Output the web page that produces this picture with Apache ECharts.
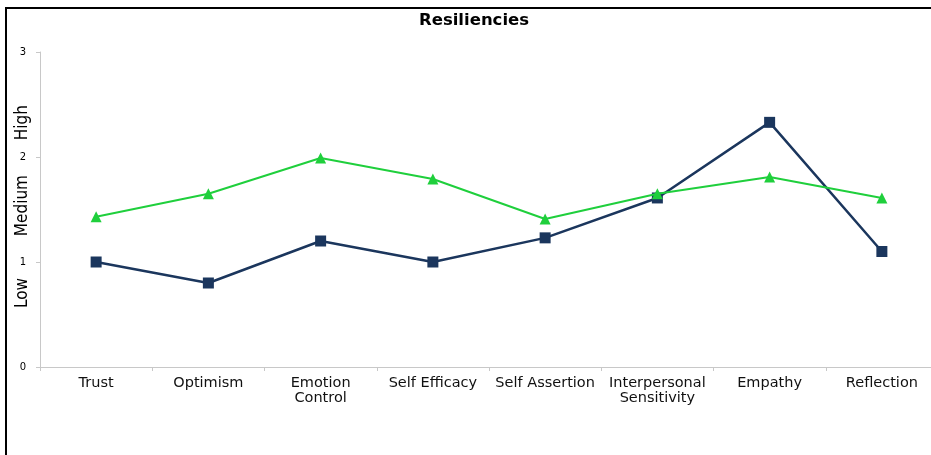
<!DOCTYPE html>
<html>
<head>
<meta charset="utf-8">
<script src="https://cdn.jsdelivr.net/npm/echarts@6/dist/echarts.min.js"></script>
<style>
  html, body { margin: 0; padding: 0; background: #fff; }
  #wrap { position: relative; width: 931px; height: 455px; overflow: hidden; }
  #frame { position: absolute; left: 5px; top: 7px; width: 940px; height: 460px;
           border-left: 2px solid #000; border-top: 2px solid #000; box-sizing: border-box; }
  #chart { position: absolute; left: 0; top: 0; width: 938px; height: 455px; }
</style>
</head>
<body>
<div id="wrap">
  <div id="frame"></div>
  <div id="chart"></div>
</div>
<script>
var categories = ['Trust', 'Optimism', 'Emotion\nControl', 'Self Efficacy', 'Self Assertion',
                  'Interpersonal\nSensitivity', 'Empathy', 'Reflection'];
var seriesA = [1.0, 0.8, 1.2, 1.0, 1.23, 1.61, 2.33, 1.1];
var seriesB = [1.43, 1.65, 1.99, 1.79, 1.41, 1.65, 1.81, 1.61];
var yTicks = [0, 1, 2, 3];
var bandLabels = ['Low', 'Medium', 'High'];

var myChart = echarts.init(document.getElementById('chart'));
var option = {
  animation: false,
  title: {
    text: 'Resiliencies',
    left: 414,
    top: 7,
    textStyle: { fontFamily: 'DejaVu Sans', fontSize: 16.5, fontWeight: 'bold', color: '#000' }
  },
  grid: { left: 40, right: 0, top: 52, bottom: 88 },
  xAxis: {
    type: 'category',
    data: categories,
    boundaryGap: true,
    axisLine: { lineStyle: { color: '#c8c8c8', width: 1 } },
    axisTick: { show: true, length: 4, lineStyle: { color: '#c8c8c8' } },
    axisLabel: {
      interval: 0,
      margin: 9,
      color: '#111',
      fontFamily: 'DejaVu Sans',
      fontSize: 14.5,
      lineHeight: 15
    }
  },
  yAxis: {
    type: 'value',
    min: yTicks[0],
    max: yTicks[yTicks.length - 1],
    interval: 1,
    axisLine: { show: true, lineStyle: { color: '#c8c8c8', width: 1 } },
    axisTick: { show: true, length: 4, lineStyle: { color: '#c8c8c8' } },
    splitLine: { show: false },
    axisLabel: { color: '#000', fontFamily: 'DejaVu Sans', fontSize: 10, margin: 14 }
  },
  graphic: [
    { type: 'text', left: 14, top: 278, rotation: Math.PI / 2,
      style: { text: bandLabels[0], fontFamily: 'Liberation Sans Narrow, DejaVu Sans Condensed', fontSize: 17, fill: '#000' } },
    { type: 'text', left: 14, top: 175, rotation: Math.PI / 2,
      style: { text: bandLabels[1], fontFamily: 'Liberation Sans Narrow, DejaVu Sans Condensed', fontSize: 17, fill: '#000' } },
    { type: 'text', left: 14, top: 105, rotation: Math.PI / 2,
      style: { text: bandLabels[2], fontFamily: 'Liberation Sans Narrow, DejaVu Sans Condensed', fontSize: 17, fill: '#000' } }
  ],
  series: [
    {
      type: 'line',
      data: seriesA,
      symbol: 'rect',
      symbolSize: 11,
      lineStyle: { color: '#1b365d', width: 2.5 },
      itemStyle: { color: '#1b365d' },
      z: 2
    },
    {
      type: 'line',
      data: seriesB,
      symbol: 'triangle',
      symbolSize: 11,
      lineStyle: { color: '#1fcf3c', width: 2 },
      itemStyle: { color: '#1fcf3c' },
      z: 3
    }
  ]
};
myChart.setOption(option);
</script>
</body>
</html>
